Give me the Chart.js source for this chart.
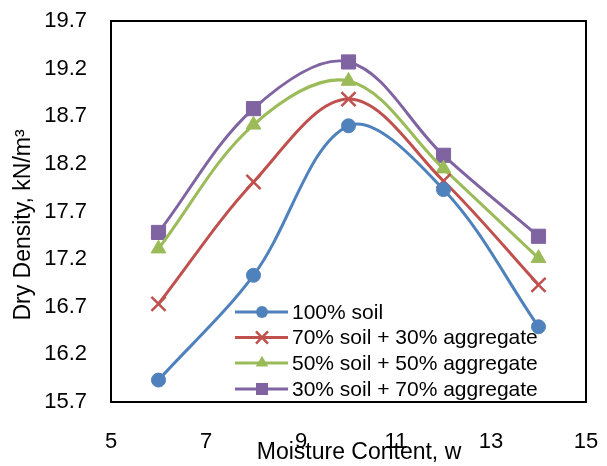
<!DOCTYPE html>
<html>
<head>
<meta charset="utf-8">
<script src="https://cdn.jsdelivr.net/npm/chart.js@4/dist/chart.umd.min.js"></script>
<style>
  html, body { margin: 0; padding: 0; background: #fff; }
  #wrap { width: 607px; height: 466px; position: relative; }
</style>
</head>
<body>
<div id="wrap"><canvas id="compactionChart"></canvas></div>
<script>
// moisture content (%) and dry density (kN/m3)
const moisture = [6, 8, 10, 12, 14];
const soil100 = [15.93, 17.03, 18.60, 17.93, 16.49];
const soil70agg30 = [16.73, 18.01, 18.88, 18.02, 16.93];
const soil50agg50 = [17.31, 18.61, 19.07, 18.15, 17.21];
const soil30agg70 = [17.48, 18.78, 19.27, 18.29, 17.44];

const seriesNames = [
  '100% soil',
  '70% soil + 30% aggregate',
  '50% soil + 50% aggregate',
  '30% soil + 70% aggregate',
];
const xTicks = [5, 7, 9, 11, 13, 15];
const yTicks = [15.7, 16.2, 16.7, 17.2, 17.7, 18.2, 18.7, 19.2, 19.7];
const xTitle = 'Moisture Content, w';
const yTitle = 'Dry Density, kN/m³';

const FONT = 'Liberation Sans, Arial, sans-serif';

function toPoints(ys) {
  return moisture.map((x, i) => ({ x, y: ys[i] }));
}

function makeSet(label, ys, color, style, radius) {
  return {
    label,
    data: toPoints(ys),
    borderColor: color,
    backgroundColor: color,
    borderWidth: 3,
    tension: 0.35,
    pointStyle: style,
    pointRadius: radius,
    pointHoverRadius: radius,
    pointBorderWidth: style === 'crossRot' ? 2.5 : 1,
    pointBackgroundColor: color,
    pointBorderColor: color,
  };
}

function drawMarker(ctx, style, r, x, y) {
  ctx.beginPath();
  if (style === 'circle') {
    ctx.arc(x, y, r, 0, Math.PI * 2);
    ctx.fill();
  } else if (style === 'rect') {
    const s = Math.SQRT1_2 * r;
    ctx.rect(x - s, y - s, 2 * s, 2 * s);
    ctx.fill();
  } else if (style === 'triangle') {
    ctx.moveTo(x, y - r);
    ctx.lineTo(x + r * 0.866, y + r / 2);
    ctx.lineTo(x - r * 0.866, y + r / 2);
    ctx.closePath();
    ctx.fill();
  } else if (style === 'crossRot') {
    const s = Math.SQRT1_2 * r;
    ctx.moveTo(x - s, y - s);
    ctx.lineTo(x + s, y + s);
    ctx.moveTo(x - s, y + s);
    ctx.lineTo(x + s, y - s);
    ctx.stroke();
  }
}

// frame around plot area, axis titles, legend drawn inside the plot
const framePlugin = {
  id: 'frameAndLegend',
  afterDraw(chart) {
    const { ctx, chartArea: a } = chart;
    ctx.save();
    ctx.strokeStyle = '#000';
    ctx.lineWidth = 2;
    ctx.strokeRect(a.left, a.top, a.right - a.left, a.bottom - a.top);

    // axis titles (x title sits over the tick labels like the original)
    ctx.fillStyle = '#000';
    ctx.font = '23px ' + FONT;
    ctx.textAlign = 'center';
    ctx.textBaseline = 'middle';
    ctx.fillText(xTitle, 359, 453);
    ctx.save();
    ctx.translate(24, 225);
    ctx.rotate(-Math.PI / 2);
    ctx.fillText(yTitle, 0, 0);
    ctx.restore();

    const rows = [312, 337.5, 363, 389];
    chart.data.datasets.forEach((ds, i) => {
      const y = rows[i];
      ctx.strokeStyle = ds.borderColor;
      ctx.lineWidth = 3;
      ctx.beginPath();
      ctx.moveTo(235, y);
      ctx.lineTo(288, y);
      ctx.stroke();
      ctx.fillStyle = ds.borderColor;
      ctx.lineWidth = ds.pointBorderWidth;
      drawMarker(ctx, ds.pointStyle, ds.pointRadius * 0.85, 262, y);
      ctx.fillStyle = '#000';
      ctx.font = '21px ' + FONT;
      ctx.textBaseline = 'middle';
      ctx.textAlign = 'left';
      ctx.fillText(ds.label, 292, y + 1);
    });
    ctx.restore();
  },
};

const canvas = document.getElementById('compactionChart');

new Chart(canvas.getContext('2d'), {
  type: 'line',
  data: {
    datasets: [
      makeSet(seriesNames[0], soil100, '#4F81BD', 'circle', 7),
      makeSet(seriesNames[1], soil70agg30, '#C0504D', 'crossRot', 10),
      makeSet(seriesNames[2], soil50agg50, '#9BBB59', 'triangle', 8.5),
      makeSet(seriesNames[3], soil30agg70, '#8064A2', 'rect', 10),
    ],
  },
  options: {
    responsive: true,
    maintainAspectRatio: false,
    animation: false,
    layout: { autoPadding: false, padding: { top: 21, right: 21, bottom: 0, left: 0 } },
    plugins: {
      legend: { display: false },
      tooltip: { enabled: false },
    },
    scales: {
      x: {
        type: 'linear',
        min: 5,
        max: 15,
        grid: { display: false, drawTicks: false },
        border: { display: false },
        afterBuildTicks: (s) => { s.ticks = xTicks.map((v) => ({ value: v })); },
        afterFit: (s) => {
          s.height = 64;
          s.paddingLeft = 0;
          s.paddingRight = 0;
        },
        ticks: {
          padding: 27,
          color: '#000',
          font: { family: FONT, size: 22, lineHeight: 1.2 },
          callback: (v) => String(v),
        },
      },
      y: {
        min: 15.7,
        max: 19.7,
        grid: { display: false, drawTicks: false },
        border: { display: false },
        afterBuildTicks: (s) => { s.ticks = yTicks.map((v) => ({ value: v })); },
        afterFit: (s) => {
          s.width = 111;
          s.paddingTop = 0;
          s.paddingBottom = 0;
        },
        ticks: {
          padding: 24,
          color: '#000',
          font: { family: FONT, size: 22, lineHeight: 1.2 },
          callback: (v) => v.toFixed(1),
        },
      },
    },
  },
  plugins: [framePlugin],
});
</script>
</body>
</html>
